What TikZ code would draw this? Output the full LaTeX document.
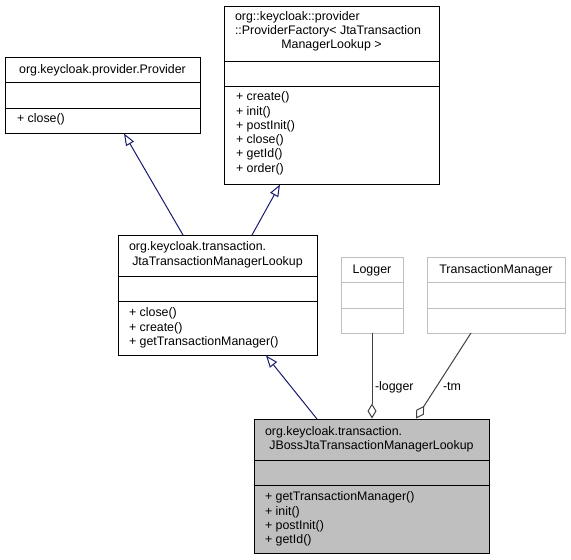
\documentclass[tikz,border=0pt]{standalone}
\usepackage{fontspec}
\setmainfont{Liberation Sans}
\usetikzlibrary{arrows.meta}
\definecolor{navyedge}{HTML}{191970}
\definecolor{aggedge}{HTML}{404040}
\definecolor{lightgrey}{HTML}{BFBFBF}
\tikzset{
  box/.style={draw=black, line width=1pt, inner sep=0pt, outer sep=0pt, anchor=north west},
  greybox/.style={box, draw=lightgrey},
  sep/.style={line width=1pt},
  greysep/.style={line width=1pt, draw=lightgrey},
  txt/.style={inner sep=0pt, outer sep=0pt, anchor=base west, font=\fontsize{12.4}{14.3}\selectfont},
  ctxt/.style={txt, anchor=base},
  inh/.style={draw=navyedge, line width=1pt, -{Triangle[open, length=12pt, width=9pt, line width=1pt]}},
  agg/.style={draw=aggedge, line width=1pt, -{Diamond[open, length=15pt, width=9pt, line width=1pt]}},
}
\begin{document}
\begin{tikzpicture}[x=1pt, y=-1pt]
\useasboundingbox (0,0) rectangle (571,560);

% Provider
\node[box, minimum width=195pt, minimum height=76pt] (prov) at (5,57) {};
\draw[sep] (5,82) -- (200,82);
\draw[sep] (5,108) -- (200,108);
\node[ctxt] (provT) at (102.5,73) {org.keycloak.provider.Provider};
\node[txt] (provM1) at (17,122) {+ close()};

% ProviderFactory
\node[box, minimum width=215pt, minimum height=178pt] (fact) at (224,6) {};
\draw[sep] (224,61) -- (439,61);
\draw[sep] (224,86) -- (439,86);
\node[txt] (factT1) at (235,20) {org::keycloak::provider};
\node[txt] (factT2) at (235,34.3) {::ProviderFactory< JtaTransaction};
\node[ctxt] (factT3) at (331.5,48.6) {ManagerLookup >};
\node[txt] (factM1) at (236,100.7) {+ create()};
\node[txt] (factM2) at (236,115) {+ init()};
\node[txt] (factM3) at (236,129.3) {+ postInit()};
\node[txt] (factM4) at (236,143.6) {+ close()};
\node[txt] (factM5) at (236,157.9) {+ getId()};
\node[txt] (factM6) at (236,172.2) {+ order()};

% JtaTransactionManagerLookup
\node[box, minimum width=199pt, minimum height=120pt] (jta) at (118,235) {};
\draw[sep] (118,276) -- (317,276);
\draw[sep] (118,301) -- (317,301);
\node[txt] (jtaT1) at (129,250.7) {org.keycloak.transaction.};
\node[ctxt] (jtaT2) at (217.5,265) {JtaTransactionManagerLookup};
\node[txt] (jtaM1) at (129,316.7) {+ close()};
\node[txt] (jtaM2) at (129,331) {+ create()};
\node[txt] (jtaM3) at (129,345.3) {+ getTransactionManager()};

% Logger
\node[greybox, minimum width=62pt, minimum height=76pt] (log) at (341,257) {};
\draw[greysep] (341,282) -- (403,282);
\draw[greysep] (341,308) -- (403,308);
\node[ctxt] (logT) at (372,273) {Logger};

% TransactionManager
\node[greybox, minimum width=138pt, minimum height=76pt] (tm) at (427,257) {};
\draw[greysep] (427,282) -- (565,282);
\draw[greysep] (427,308) -- (565,308);
\node[ctxt] (tmT) at (496,273) {TransactionManager};

% JBossJtaTransactionManagerLookup
\node[box, fill=lightgrey, minimum width=235pt, minimum height=134pt] (jb) at (254,419) {};
\draw[sep] (254,460) -- (489,460);
\draw[sep] (254,485) -- (489,485);
\node[txt] (jbT1) at (265,435) {org.keycloak.transaction.};
\node[ctxt] (jbT2) at (371.5,449.3) {JBossJtaTransactionManagerLookup};
\node[txt] (jbM1) at (265,500.7) {+ getTransactionManager()};
\node[txt] (jbM2) at (265,515) {+ init()};
\node[txt] (jbM3) at (265,529.3) {+ postInit()};
\node[txt] (jbM4) at (265,543.6) {+ getId()};

% connector end points
\coordinate (jtaA) at (183,235);
\coordinate (provA) at (124,133.5);
\coordinate (jtaB) at (252,235);
\coordinate (factB) at (280,184.5);
\coordinate (jbC) at (317,419);
\coordinate (jtaC) at (266,355.5);
\coordinate (logD) at (372,333);
\coordinate (jbD) at (372,418.5);
\coordinate (tmE) at (471,333);
\coordinate (jbE) at (416,418.5);

\draw[inh] (jtaA) -- (provA);
\draw[inh] (jtaB) -- (factB);
\draw[inh] (jbC) -- (jtaC);
\draw[agg] (logD) -- (jbD);
\draw[agg] (tmE) -- (jbE);

\node[txt] (lblLog) at (375,390.7) {-logger};
\node[txt] (lblTm) at (443,390.7) {-tm};
\end{tikzpicture}
\end{document}
